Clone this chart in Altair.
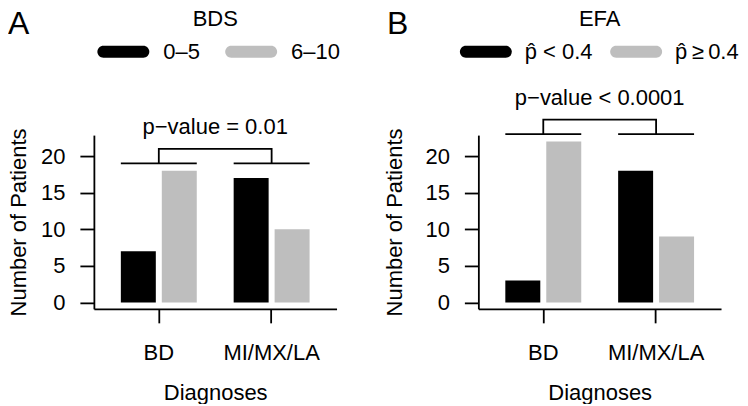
import altair as alt
import pandas as pd

# ---------------- data ----------------
diagnoses = ["BD", "MI/MX/LA"]
panel_letters = ["A", "B"]
panel_titles = ["BDS", "EFA"]
series_bds = ["0\u20135", "6\u201310"]
series_efa = ["p\u0302 < 0.4", "p\u0302\u2009\u2265\u20090.4"]
bds_first = [7, 17]      # 0–5
bds_second = [18, 10]    # 6–10
efa_first = [3, 18]      # p̂ < 0.4
efa_second = [22, 9]     # p̂ ≥ 0.4
p_value_labels = ["p\u2212value = 0.01", "p\u2212value < 0.0001"]
y_tick_values = [0, 5, 10, 15, 20]
y_limits = [0, 22]
bar_colors = ["#000000", "#bebebe"]

# ---------------- style ----------------
W, H = 243, 174
FS = 22
LW = 1.8
FONT = "Liberation Sans"
STADIUM = ("M-0.769,-0.2308L0.769,-0.2308A0.2308,0.2308,0,0,1,0.769,0.2308"
           "L-0.769,0.2308A0.2308,0.2308,0,0,1,-0.769,-0.2308Z")
ext = 0.04 * (y_limits[1] - y_limits[0])
y_domain = [y_limits[0] - ext, y_limits[1] + ext]
TOP = -126


def panel(letter, title, series, first, second, p_label,
          letter_x, ytitle_x, legend_x, col_pad, label_offset):
    bars = pd.DataFrame({
        "Diagnosis": diagnoses * 2,
        "Series": [series[0]] * 2 + [series[1]] * 2,
        "Count": first + second,
    })
    top = max(first + second)
    low, high, py = top + 1, top + 3, top + 5
    seg = pd.DataFrame({"Diagnosis": diagnoses, "y": [low, low]})
    brk = pd.DataFrame({
        "Diagnosis": [diagnoses[0], diagnoses[0], diagnoses[1], diagnoses[1]],
        "y": [low, high, high, low],
        "k": [0, 1, 2, 3],
    })
    ptxt = pd.DataFrame({"label": [p_label], "y": [py]})
    head = pd.DataFrame({"t": [title]})
    lett = pd.DataFrame({"t": [letter]})

    xs = alt.Scale(domain=diagnoses, paddingInner=0.327, paddingOuter=0.239)
    ys = alt.Scale(domain=y_domain, nice=False, zero=False)
    xaxis = alt.Axis(title="Diagnoses", labelAngle=0, tickSize=14,
                     labelPadding=20, titleY=74)
    yaxis = alt.Axis(title="Number of Patients", values=y_tick_values,
                     tickSize=14, labelPadding=15, titleX=ytitle_x, grid=False)

    def X(**kw):
        return alt.X("Diagnosis:N", scale=xs, axis=xaxis, title="Diagnoses", **kw)

    def Y(f):
        return alt.Y(f, scale=ys, axis=yaxis, title="Number of Patients")

    b = alt.Chart(bars).mark_bar().encode(
        x=X(),
        xOffset=alt.XOffset("Series:N",
                            scale=alt.Scale(domain=series, paddingInner=0.146,
                                            paddingOuter=0)),
        y=Y("Count:Q"),
        y2=alt.value(H),
        color=alt.Color(
            "Series:N",
            scale=alt.Scale(domain=series, range=bar_colors),
            title=None,
            legend=alt.Legend(
                orient="none", legendX=legend_x, legendY=-109.5,
                direction="horizontal", columns=2, padding=0,
                symbolType=STADIUM, symbolSize=2704, symbolStrokeWidth=0,
                symbolOpacity=1, labelOffset=label_offset, columnPadding=col_pad,
                labelFontSize=FS, labelFont=FONT, labelColor="black",
                labelLimit=300,
            ),
        ),
    )
    s = alt.Chart(seg).mark_rule(color="black", strokeWidth=LW).encode(
        x=X(bandPosition=0),
        x2=alt.X2("Diagnosis", bandPosition=1),
        y=Y("y:Q"),
    )
    ln = alt.Chart(brk).mark_line(color="black", strokeWidth=LW,
                                  strokeJoin="miter").encode(
        x=X(), y=Y("y:Q"), order="k:Q"
    )
    p = alt.Chart(ptxt).mark_text(fontSize=FS, baseline="alphabetic",
                                  align="center", color="black").encode(
        x=alt.value(W / 2), y=Y("y:Q"), text="label:N"
    )
    t = alt.Chart(head).mark_text(fontSize=FS, baseline="top", align="center",
                                  color="black").encode(
        x=alt.value(W / 2), y=alt.value(TOP), text="t:N"
    )
    a = alt.Chart(lett).mark_text(fontSize=32, baseline="top", align="left",
                                  color="black").encode(
        x=alt.value(letter_x), y=alt.value(TOP), text="t:N"
    )
    return alt.layer(b, s, ln, p, t, a).properties(width=W, height=H)


pa = panel(panel_letters[0], panel_titles[0], series_bds, bds_first, bds_second,
           p_value_labels[0], letter_x=-86, ytitle_x=-63, legend_x=3.5,
           col_pad=25, label_offset=14)
pb = panel(panel_letters[1], panel_titles[1], series_efa, efa_first, efa_second,
           p_value_labels[1], letter_x=-91.5, ytitle_x=-72, legend_x=-18.5,
           col_pad=17.5, label_offset=13)

chart = (
    alt.hconcat(pa, pb, spacing=142, bounds="flush")
    .resolve_scale(color="independent", x="independent", y="independent",
                   xOffset="independent")
    .resolve_legend(color="independent")
    .properties(padding=0)
    .configure(font=FONT)
    .configure_view(strokeWidth=0)
    .configure_axis(
        domainColor="black", domainWidth=LW, tickColor="black", tickWidth=LW,
        labelColor="black", labelFontSize=FS, labelFont=FONT,
        titleColor="black", titleFontSize=FS, titleFont=FONT,
        titleFontWeight="normal", grid=False,
    )
)

chart.save("out.html", embed_options={"renderer": "svg", "actions": False})
